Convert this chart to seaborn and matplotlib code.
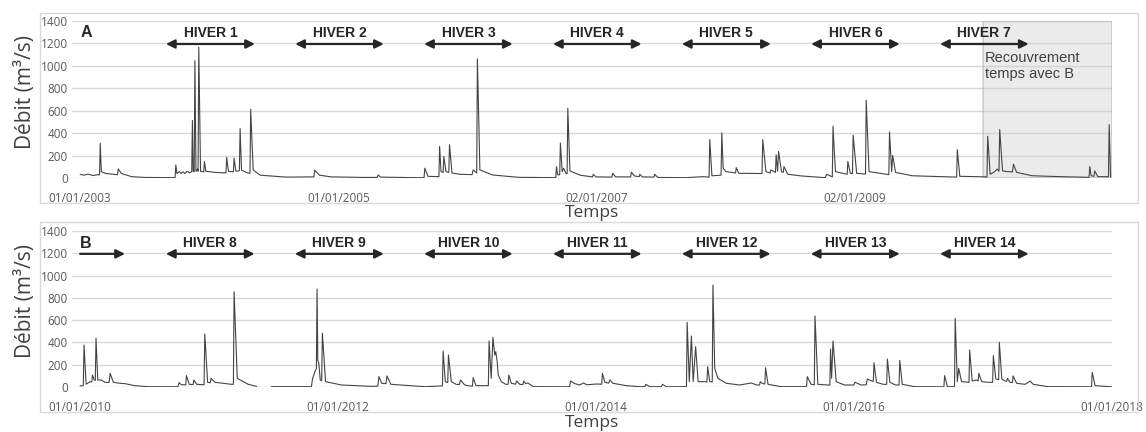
import pandas as pd
import matplotlib.pyplot as plt
import matplotlib.dates as mdates
from matplotlib.patches import Rectangle
import seaborn as sns

# Station A : chronique 2003-2010 (date, debit m3/s)
serie_a = [
    ("2003-01-01", 33), ("2003-01-12", 25), ("2003-01-23", 35), ("2003-02-06", 22), ("2003-02-21", 30),
    ("2003-02-25", 28), ("2003-02-27", 310), ("2003-03-02", 57), ("2003-03-15", 40), ("2003-04-13", 30),
    ("2003-04-17", 30), ("2003-04-19", 81), ("2003-04-28", 40), ("2003-05-27", 12), ("2003-07-02", 5),
    ("2003-09-24", 3), ("2003-09-27", 5), ("2003-09-29", 117), ("2003-10-02", 40), ("2003-10-09", 57),
    ("2003-10-14", 40), ("2003-10-20", 55), ("2003-10-25", 40), ("2003-10-31", 60), ("2003-11-07", 45),
    ("2003-11-13", 57), ("2003-11-15", 513), ("2003-11-17", 60), ("2003-11-20", 55), ("2003-11-22", 1047),
    ("2003-11-25", 60), ("2003-11-30", 80), ("2003-12-01", 60), ("2003-12-03", 1167), ("2003-12-08", 60),
    ("2003-12-17", 55), ("2003-12-19", 147), ("2003-12-23", 60), ("2004-01-19", 50), ("2004-02-14", 45),
    ("2004-02-18", 45), ("2004-02-20", 183), ("2004-02-25", 60), ("2004-03-08", 55), ("2004-03-10", 55),
    ("2004-03-12", 177), ("2004-03-17", 60), ("2004-03-27", 65), ("2004-03-29", 441), ("2004-04-02", 70),
    ("2004-04-19", 45), ("2004-04-26", 42), ("2004-04-28", 612), ("2004-05-05", 72), ("2004-05-25", 25),
    ("2004-08-06", 8), ("2004-10-24", 10), ("2004-10-26", 69), ("2004-11-09", 25), ("2004-12-12", 10),
    ("2005-03-14", 5), ("2005-04-21", 5), ("2005-04-24", 27), ("2005-05-01", 8), ("2005-08-07", 3),
    ("2005-09-01", 3), ("2005-09-03", 87), ("2005-09-12", 15), ("2005-10-11", 12), ("2005-10-13", 12),
    ("2005-10-15", 282), ("2005-10-19", 57), ("2005-10-25", 50), ("2005-10-27", 192), ("2005-11-02", 57),
    ("2005-11-10", 50), ("2005-11-12", 297), ("2005-11-19", 45), ("2005-12-12", 33), ("2006-01-15", 30),
    ("2006-01-18", 72), ("2006-01-28", 45), ("2006-01-30", 1062), ("2006-02-06", 72), ("2006-03-14", 27),
    ("2006-05-26", 6), ("2006-09-09", 3), ("2006-09-11", 102), ("2006-09-14", 30), ("2006-09-20", 28),
    ("2006-09-22", 312), ("2006-09-27", 57), ("2006-10-01", 87), ("2006-10-08", 40), ("2006-10-11", 38),
    ("2006-10-13", 621), ("2006-10-19", 63), ("2006-11-17", 25), ("2006-12-22", 10), ("2006-12-24", 33),
    ("2007-01-01", 10), ("2007-02-15", 8), ("2007-02-17", 42), ("2007-02-25", 10), ("2007-04-09", 10),
    ("2007-04-11", 51), ("2007-04-20", 18), ("2007-05-03", 12), ("2007-05-05", 33), ("2007-05-12", 10),
    ("2007-06-14", 8), ("2007-06-16", 33), ("2007-06-25", 5), ("2007-09-13", 3), ("2007-10-31", 12),
    ("2007-11-17", 8), ("2007-11-19", 342), ("2007-11-25", 20), ("2007-12-21", 25), ("2007-12-23", 402),
    ("2007-12-27", 87), ("2008-01-04", 57), ("2008-01-31", 45), ("2008-02-02", 93), ("2008-02-09", 42),
    ("2008-04-15", 40), ("2008-04-17", 342), ("2008-04-26", 57), ("2008-05-08", 45), ("2008-05-10", 72),
    ("2008-05-23", 50), ("2008-05-25", 207), ("2008-05-29", 60), ("2008-06-01", 237), ("2008-06-09", 57),
    ("2008-06-14", 50), ("2008-06-16", 102), ("2008-06-27", 33), ("2008-08-06", 18), ("2008-10-11", 3),
    ("2008-10-15", 33), ("2008-10-31", 10), ("2008-11-02", 462), ("2008-11-05", 267), ("2008-11-09", 57),
    ("2008-12-12", 33), ("2008-12-14", 147), ("2008-12-21", 42), ("2008-12-27", 40), ("2008-12-29", 381),
    ("2009-01-08", 42), ("2009-02-02", 35), ("2009-02-04", 693), ("2009-02-12", 57), ("2009-04-09", 30),
    ("2009-04-11", 411), ("2009-04-17", 57), ("2009-04-20", 201), ("2009-04-28", 50), ("2009-06-14", 20),
    ("2009-10-18", 8), ("2009-10-20", 252), ("2009-10-27", 15), ("2010-01-12", 10), ("2010-01-14", 372),
    ("2010-01-21", 33), ("2010-02-03", 57), ("2010-02-10", 80), ("2010-02-15", 60), ("2010-02-17", 432),
    ("2010-02-25", 63), ("2010-03-11", 57), ("2010-03-25", 55), ("2010-03-28", 123), ("2010-04-06", 50),
    ("2010-05-20", 20), ("2010-08-08", 12), ("2010-10-28", 6), ("2010-10-30", 102), ("2010-11-03", 20),
    ("2010-11-11", 15), ("2010-11-13", 63), ("2010-11-22", 12), ("2010-12-22", 12), ("2010-12-24", 477),
    ("2010-12-28", 6),
]

# Station B : 2010-2017, lacune au printemps 2011
serie_b1 = [
    ("2010-01-01", 10), ("2010-01-10", 12), ("2010-01-12", 377), ("2010-01-18", 25), ("2010-01-29", 48),
    ("2010-02-03", 45), ("2010-02-05", 108), ("2010-02-10", 63), ("2010-02-13", 60), ("2010-02-15", 437),
    ("2010-02-20", 63), ("2010-03-01", 63), ("2010-03-13", 42), ("2010-03-24", 40), ("2010-03-27", 123),
    ("2010-04-05", 42), ("2010-04-24", 33), ("2010-05-08", 30), ("2010-06-05", 12), ("2010-07-13", 3),
    ("2010-09-17", 2), ("2010-10-05", 3), ("2010-10-08", 39), ("2010-10-15", 20), ("2010-10-27", 20),
    ("2010-10-29", 102), ("2010-11-06", 24), ("2010-11-17", 22), ("2010-11-19", 63), ("2010-11-27", 24),
    ("2010-12-18", 20), ("2010-12-20", 476), ("2010-12-28", 42), ("2011-01-04", 38), ("2011-01-07", 78),
    ("2011-01-18", 42), ("2011-03-06", 24), ("2011-03-11", 24), ("2011-03-13", 855), ("2011-03-22", 78),
    ("2011-04-22", 24), ("2011-05-16", 6),
]
serie_b2 = [
    ("2011-06-27", 3), ("2011-10-08", 3), ("2011-10-18", 3), ("2011-10-21", 72), ("2011-10-28", 140),
    ("2011-11-01", 165), ("2011-11-03", 879), ("2011-11-05", 240), ("2011-11-08", 210), ("2011-11-12", 63),
    ("2011-11-16", 55), ("2011-11-18", 482),
    ("2011-11-27", 48), ("2012-01-11", 18), ("2012-04-05", 6), ("2012-04-23", 8), ("2012-04-26", 93),
    ("2012-05-04", 33), ("2012-05-16", 30), ("2012-05-19", 99), ("2012-05-30", 24), ("2012-09-03", 3),
    ("2012-10-18", 10), ("2012-10-23", 10), ("2012-10-25", 323), ("2012-10-31", 48), ("2012-11-07", 40),
    ("2012-11-09", 287), ("2012-11-17", 48), ("2012-12-01", 24), ("2012-12-10", 22), ("2012-12-13", 63),
    ("2012-12-25", 18), ("2013-01-09", 9), ("2013-01-16", 9), ("2013-01-18", 84), ("2013-01-26", 12),
    ("2013-02-25", 12), ("2013-03-02", 12), ("2013-03-04", 413), ("2013-03-10", 78), ("2013-03-15", 446),
    ("2013-03-20", 287), ("2013-03-23", 317), ("2013-03-27", 227), ("2013-03-30", 108), ("2013-04-08", 48),
    ("2013-04-20", 24), ("2013-04-27", 24), ("2013-04-29", 108), ("2013-05-06", 33), ("2013-05-18", 25),
    ("2013-05-21", 54), ("2013-05-30", 24), ("2013-06-08", 22), ("2013-06-10", 54), ("2013-06-16", 30),
    ("2013-06-22", 36), ("2013-07-07", 3), ("2013-09-30", 2), ("2013-10-18", 3), ("2013-10-21", 54),
    ("2013-11-02", 30), ("2013-11-16", 18), ("2013-11-26", 36), ("2013-12-06", 20), ("2014-01-03", 27),
    ("2014-01-17", 25), ("2014-01-19", 123), ("2014-01-26", 42), ("2014-02-06", 35), ("2014-02-09", 63),
    ("2014-02-18", 33), ("2014-03-28", 12), ("2014-05-05", 3), ("2014-05-19", 3), ("2014-05-22", 24),
    ("2014-06-02", 3), ("2014-07-05", 3), ("2014-07-08", 24), ("2014-07-19", 2), ("2014-09-14", 3),
    ("2014-09-16", 580), ("2014-09-22", 48), ("2014-09-28", 458), ("2014-10-03", 48), ("2014-10-10", 362),
    ("2014-10-17", 48), ("2014-11-05", 48), ("2014-11-11", 45), ("2014-11-13", 182), ("2014-11-19", 48),
    ("2014-11-26", 45), ("2014-11-28", 915), ("2014-12-03", 167), ("2014-12-12", 78), ("2015-01-05", 33),
    ("2015-02-11", 18), ("2015-03-17", 36), ("2015-03-31", 18), ("2015-04-09", 18), ("2015-04-11", 48),
    ("2015-04-18", 30), ("2015-04-24", 28), ("2015-04-26", 173), ("2015-05-03", 24), ("2015-06-09", 3),
    ("2015-08-20", 3), ("2015-08-22", 93), ("2015-09-02", 24), ("2015-09-11", 20), ("2015-09-13", 637),
    ("2015-09-21", 24), ("2015-10-19", 18), ("2015-10-25", 18), ("2015-10-27", 341), ("2015-10-30", 78),
    ("2015-11-03", 413), ("2015-11-12", 48), ("2015-12-05", 18), ("2016-01-01", 18), ("2016-01-04", 42),
    ("2016-01-22", 18), ("2016-02-05", 20), ("2016-02-08", 72), ("2016-02-14", 63), ("2016-02-25", 50),
    ("2016-02-27", 218), ("2016-03-05", 42), ("2016-03-24", 24), ("2016-04-03", 24), ("2016-04-05", 251),
    ("2016-04-12", 42), ("2016-04-28", 18), ("2016-05-08", 18), ("2016-05-10", 239), ("2016-05-17", 24),
    ("2016-06-21", 3), ("2016-09-12", 2), ("2016-09-14", 102), ("2016-09-22", 3), ("2016-10-12", 3),
    ("2016-10-14", 616), ("2016-10-20", 48), ("2016-10-24", 167), ("2016-11-01", 48), ("2016-11-22", 42),
    ("2016-11-24", 332), ("2016-12-01", 54), ("2016-12-13", 63), ("2016-12-18", 55), ("2016-12-20", 123),
    ("2016-12-28", 48), ("2017-01-16", 42), ("2017-01-28", 42), ("2017-01-30", 281), ("2017-02-06", 72),
    ("2017-02-14", 65), ("2017-02-16", 401), ("2017-02-23", 72), ("2017-03-04", 54), ("2017-03-09", 52),
    ("2017-03-11", 78), ("2017-03-18", 42), ("2017-03-25", 40), ("2017-03-27", 99), ("2017-04-06", 33),
    ("2017-04-30", 24), ("2017-05-09", 42), ("2017-05-14", 54), ("2017-05-23", 24), ("2017-07-04", 3),
    ("2017-11-04", 2), ("2017-11-06", 132), ("2017-11-14", 12), ("2017-12-31", 2),
]

hivers_a = ["HIVER 1", "HIVER 2", "HIVER 3", "HIVER 4", "HIVER 5", "HIVER 6", "HIVER 7"]
debut_a = ["2003-09-01", "2004-09-01", "2005-09-01", "2006-09-01", "2007-09-01", "2008-09-01", "2009-09-01"]
fin_a = ["2004-05-10", "2005-05-10", "2006-05-10", "2007-05-10", "2008-05-10", "2009-05-10", "2010-05-10"]
hivers_b = ["HIVER 8", "HIVER 9", "HIVER 10", "HIVER 11", "HIVER 12", "HIVER 13", "HIVER 14"]
debut_b = ["2010-09-01", "2011-09-01", "2012-09-01", "2013-09-01", "2014-09-01", "2015-09-01", "2016-09-01"]
fin_b = ["2011-05-10", "2012-05-10", "2013-05-10", "2014-05-10", "2015-05-10", "2016-05-10", "2017-05-10"]
suite_b = ["2010-01-01", "2010-05-08"]

ticks_a = ["2003-01-01", "2005-01-01", "2007-01-02", "2009-01-02"]
ticks_b = ["2010-01-01", "2012-01-01", "2014-01-01", "2016-01-01", "2018-01-01"]
recouvrement = ["2010-01-01", "2011-01-01"]

df_a = pd.DataFrame(serie_a, columns=["date", "debit"])
df_a["seg"] = 0
b1 = pd.DataFrame(serie_b1, columns=["date", "debit"])
b1["seg"] = 0
b2 = pd.DataFrame(serie_b2, columns=["date", "debit"])
b2["seg"] = 1
df_b = pd.concat([b1, b2], ignore_index=True)
for df in (df_a, df_b):
    df["date"] = pd.to_datetime(df["date"])

sns.set_theme(style="white")
plt.rcParams['font.family'] = ['Open Sans', 'DejaVu Sans']

W, H = 1146, 432
fig = plt.figure(figsize=(W / 100, H / 100), dpi=100)

# cadres gris autour de chaque panneau
for top, bottom in [(13, 203), (222, 412)]:
    fig.add_artist(Rectangle((40 / W, 1 - bottom / H), (1138 - 40) / W, (bottom - top) / H,
                             transform=fig.transFigure, fill=False, ec='#d9d9d9', lw=1))

ax_a = fig.add_axes([72 / W, 1 - 178 / H, 1040 / W, 157 / H])
ax_b = fig.add_axes([72 / W, 1 - 387 / H, 1040 / W, 156 / H])

dark = '#262626'


def winter_arrows(ax, noms, debuts, fins):
    for nom, d0, d1 in zip(noms, debuts, fins):
        x0 = mdates.date2num(pd.Timestamp(d0))
        x1 = mdates.date2num(pd.Timestamp(d1))
        ax.annotate("", xy=(x1, 1195), xytext=(x0, 1195),
                    arrowprops=dict(arrowstyle='<|-|>', color=dark, lw=1.6,
                                    shrinkA=0, shrinkB=0, mutation_scale=13))
        ax.text((x0 + x1) / 2, 1295, nom, ha='center', va='center', fontsize=10,
                fontweight='bold', color=dark, family='Liberation Sans')


for ax, df, ticks, lim in [(ax_a, df_a, ticks_a, ("2002-12-09", "2011-01-01")),
                           (ax_b, df_b, ticks_b, ("2009-12-09", "2018-01-01"))]:
    sns.lineplot(data=df, x='date', y='debit', units='seg', estimator=None,
                 color='#444444', lw=0.8, ax=ax, zorder=3)
    ax.set_xlim(pd.Timestamp(lim[0]), pd.Timestamp(lim[1]))
    ax.set_ylim(0, 1400)
    ax.set_yticks(range(0, 1401, 200))
    ax.set_xticks(pd.to_datetime(ticks))
    ax.xaxis.set_major_formatter(mdates.DateFormatter('%d/%m/%Y'))
    ax.grid(False)
    ax.yaxis.grid(True, color='#d9d9d9', lw=1)
    ax.set_axisbelow(True)
    for s in ax.spines.values():
        s.set_visible(False)
    ax.tick_params(axis='both', length=0, labelsize=8.5, labelcolor='#595959')
    ax.tick_params(axis='x', pad=10)
    ax.tick_params(axis='y', pad=3)
    ax.set_ylabel('Débit (m³/s)', fontsize=15, color='#404040')
    ax.yaxis.set_label_coords(-0.035, 0.55)
    ax.set_xlabel('Temps', fontsize=12.5, color='#404040')

ax_a.xaxis.set_label_coords(0.5, -0.17)
ax_b.xaxis.set_label_coords(0.5, -0.18)

winter_arrows(ax_a, hivers_a, debut_a, fin_a)
winter_arrows(ax_b, hivers_b, debut_b, fin_b)

# fleche "suite" de B
ax_b.annotate("", xy=(mdates.date2num(pd.Timestamp(suite_b[1])), 1195),
              xytext=(mdates.date2num(pd.Timestamp(suite_b[0])), 1195),
              arrowprops=dict(arrowstyle='-|>', color=dark, lw=1.6,
                              shrinkA=0, shrinkB=0, mutation_scale=13))

ax_a.text(mdates.date2num(pd.Timestamp("2003-01-01")), 1300, 'A', ha='left', va='center',
          fontsize=11.5, fontweight='bold', color=dark, family='Liberation Sans')
ax_b.text(mdates.date2num(pd.Timestamp("2010-01-01")), 1290, 'B', ha='left', va='center',
          fontsize=11.5, fontweight='bold', color=dark, family='Liberation Sans')

# zone de recouvrement avec B
r0 = mdates.date2num(pd.Timestamp(recouvrement[0]))
r1 = mdates.date2num(pd.Timestamp(recouvrement[1]))
ax_a.add_patch(Rectangle((r0, 0), r1 - r0, 1400, fc='#c8c8c8', alpha=0.35,
                         ec='#8c8c8c', lw=1.2, zorder=2))
ax_a.text(r0 + 6, 1000, 'Recouvrement\ntemps avec B', ha='left', va='center',
          fontsize=10.5, color='#404040', family='Liberation Sans', linespacing=1.15, zorder=4)

fig.savefig('out.png', dpi=100)
